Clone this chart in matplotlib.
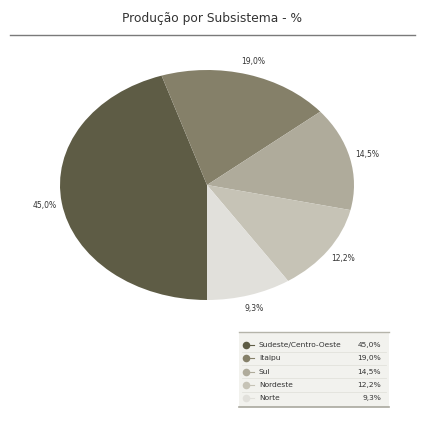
import matplotlib
matplotlib.use("Agg")
import matplotlib.pyplot as plt
from matplotlib.patches import Rectangle

# Data
regions = ["Sudeste/Centro-Oeste", "Itaipu", "Sul", "Nordeste", "Norte"]
shares = [45.0, 19.0, 14.5, 12.2, 9.3]
colors = ["#5e5c45", "#858069", "#afab9b", "#c6c3b6", "#e1e0db"]
title = "Produção por Subsistema - %"


def fmt(v):
    return f"{v:.1f}".replace(".", ",") + "%"


fig = plt.figure(figsize=(4.25, 4.25), dpi=100)
W = H = 425.0

# pie axes: ellipse center (207,185), radii 147 x 115 px
cx, cy, rx, ry = 207, 185, 147, 115
ax = fig.add_axes([(cx - rx) / W, (H - cy - ry) / H, 2 * rx / W, 2 * ry / H])
wedges, texts = ax.pie(shares, colors=colors, startangle=270, counterclock=False,
                       labels=[fmt(v) for v in shares], labeldistance=1.12,
                       wedgeprops=dict(linewidth=0),
                       textprops=dict(fontsize=5.5, color="#333333"))
for t in texts:
    t.set_ha("center")
    t.set_va("center")
ax.set_aspect("auto")
ax.set_xlim(-1, 1)
ax.set_ylim(-1, 1)
ax.axis("off")

# overlay in pixel coordinates for title, rule and legend
ov = fig.add_axes([0, 0, 1, 1])
ov.set_xlim(0, W)
ov.set_ylim(H, 0)
ov.axis("off")

ov.text(212, 18, title, ha="center", va="center", fontsize=8.8, color="#333333")
ov.plot([10, 415], [35, 35], color="#7a7a7a", lw=1.0)

# legend box
lx0, lx1, ly0, ly1 = 239, 389, 332, 407
ov.add_patch(Rectangle((lx0, ly0), lx1 - lx0, ly1 - ly0, facecolor="#f2f2ee", edgecolor="none"))
ov.plot([lx0, lx1], [ly0, ly0], color="#b5b4aa", lw=1.0)
ov.plot([lx0, lx1], [ly1, ly1], color="#a9a89e", lw=1.2)
row_h = 13.3
for i, (name, val, c) in enumerate(zip(regions, shares, colors)):
    y = 345 + i * row_h
    if i < len(regions) - 1:
        ov.plot([lx0 + 3, lx1 - 3], [y + row_h / 2, y + row_h / 2], color="#e2e2dc", lw=0.6)
    ov.plot([245, 254], [y, y], color=c, lw=0.8)
    ov.scatter([246], [y], s=30, color=c, zorder=3, linewidths=0)
    ov.text(259, y, name, ha="left", va="center", fontsize=5.4, color="#333333")
    ov.text(381, y, fmt(val), ha="right", va="center", fontsize=5.4, color="#333333")

fig.savefig("out.png", dpi=100, facecolor="white")
